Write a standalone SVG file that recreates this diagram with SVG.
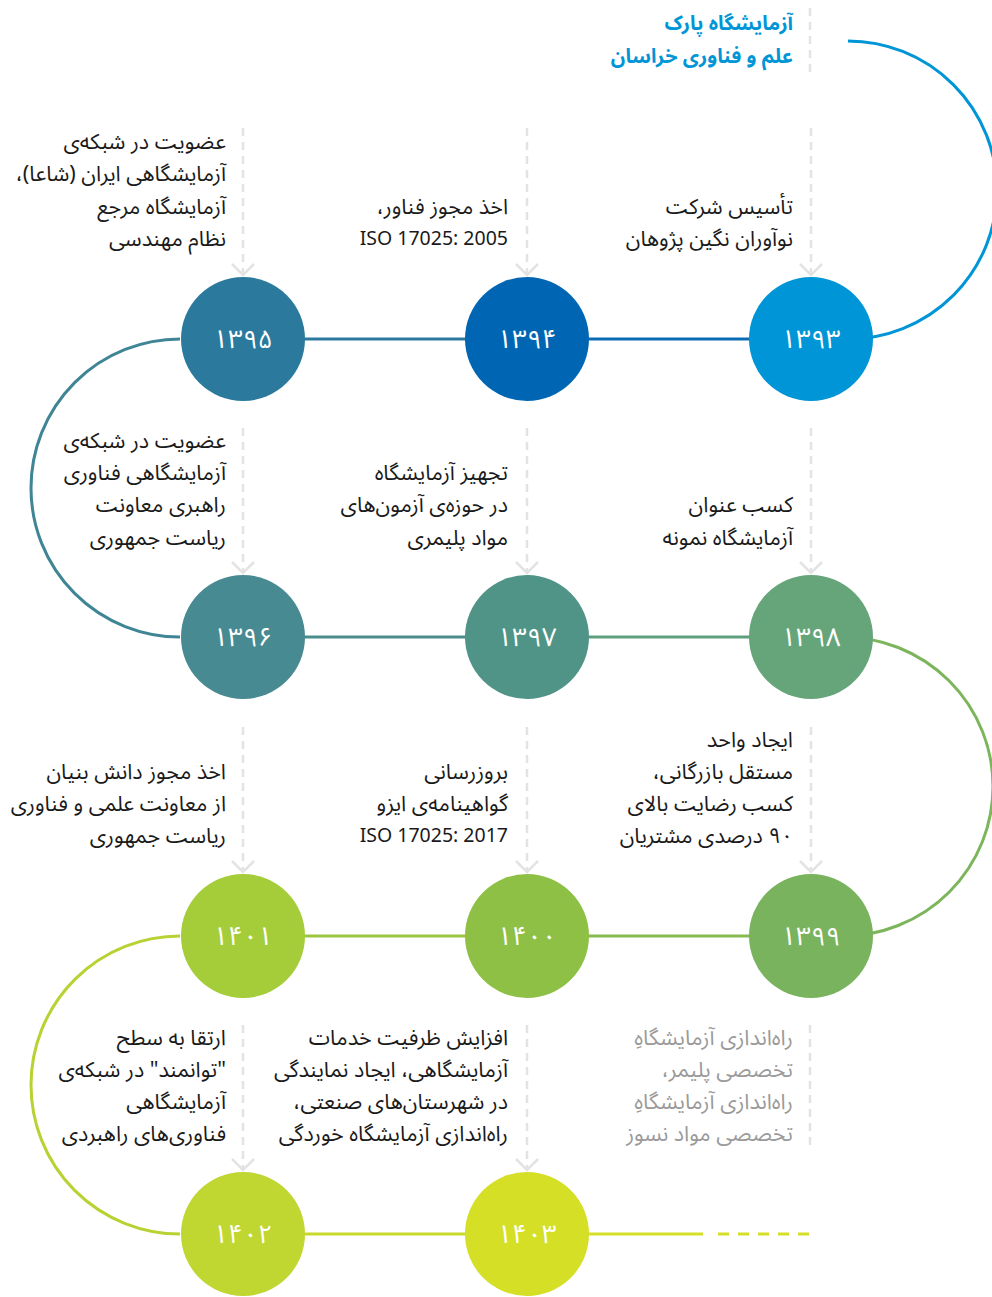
<svg xmlns="http://www.w3.org/2000/svg" width="992" height="1297" viewBox="0 0 992 1297">
<defs>
<style>
.t{font-family:"Noto Sans Arabic","Vazirmatn","DejaVu Sans",sans-serif;font-size:21.5px;fill:#1a1a1a;direction:rtl;text-anchor:start}
.iso{font-family:"Noto Sans","DejaVu Sans",sans-serif;font-size:19.5px;fill:#1a1a1a;text-anchor:end}
.g{fill:#9a9a9a}
.ti{font-family:"Noto Sans Arabic","Vazirmatn","DejaVu Sans",sans-serif;font-size:20px;font-weight:bold;fill:#0095d6;direction:rtl;text-anchor:start}
.n{font-family:"Noto Sans Arabic","Vazirmatn","DejaVu Sans",sans-serif;font-size:26px;fill:#ffffff;text-anchor:middle}
.d{stroke:#e3e3e3;stroke-width:2.5;stroke-dasharray:8 6;fill:none}
.ar{stroke:#e3e3e3;stroke-width:2.5;fill:none}
.c{fill:none;stroke-width:3}
</style>
</defs>
<rect width="992" height="1297" fill="#ffffff"/>

<g id="connectors">
<path class="c" stroke="#0095d6" d="M848 41 A149 149 0 0 1 848 339"/>
<line class="c" stroke="#0a6cb4" x1="527" y1="339" x2="811" y2="339"/>
<line class="c" stroke="#2d7aa0" x1="243" y1="339" x2="527" y2="339"/>
<path class="c" stroke="#3f8595" d="M180 339 A149 149 0 0 0 180 637"/>
<line class="c" stroke="#4a8d8c" x1="243" y1="637" x2="527" y2="637"/>
<line class="c" stroke="#5f9f7e" x1="527" y1="637" x2="811" y2="637"/>
<path class="c" stroke="#7cb55b" d="M843 637 A150 149.5 0 0 1 843 936"/>
<line class="c" stroke="#86bb50" x1="527" y1="936" x2="811" y2="936"/>
<line class="c" stroke="#9bc63f" x1="243" y1="936" x2="527" y2="936"/>
<path class="c" stroke="#b7d232" d="M180 936 A149 149 0 0 0 180 1234"/>
<line class="c" stroke="#c8d92c" x1="243" y1="1234" x2="527" y2="1234"/>
<line class="c" stroke="#d4df26" x1="527" y1="1234" x2="703" y2="1234"/>
<line class="c" stroke="#d4df26" stroke-dasharray="11 9" x1="718" y1="1234" x2="812" y2="1234"/>

<line class="d" x1="810" y1="8" x2="810" y2="72"/>

<line class="d" x1="811" y1="128" x2="811" y2="273"/>
<path class="ar" d="M800 264 L811 275 L822 264"/>
<line class="d" x1="527" y1="128" x2="527" y2="273"/>
<path class="ar" d="M516 264 L527 275 L538 264"/>
<line class="d" x1="243" y1="128" x2="243" y2="273"/>
<path class="ar" d="M232 264 L243 275 L254 264"/>

<line class="d" x1="811" y1="428" x2="811" y2="571"/>
<path class="ar" d="M800 562 L811 573 L822 562"/>
<line class="d" x1="527" y1="428" x2="527" y2="571"/>
<path class="ar" d="M516 562 L527 573 L538 562"/>
<line class="d" x1="243" y1="428" x2="243" y2="571"/>
<path class="ar" d="M232 562 L243 573 L254 562"/>

<line class="d" x1="811" y1="727" x2="811" y2="870"/>
<path class="ar" d="M800 861 L811 872 L822 861"/>
<line class="d" x1="527" y1="727" x2="527" y2="870"/>
<path class="ar" d="M516 861 L527 872 L538 861"/>
<line class="d" x1="243" y1="727" x2="243" y2="870"/>
<path class="ar" d="M232 861 L243 872 L254 861"/>

<line class="d" x1="810" y1="1025" x2="810" y2="1150"/>
<line class="d" x1="527" y1="1025" x2="527" y2="1168"/>
<path class="ar" d="M516 1159 L527 1170 L538 1159"/>
<line class="d" x1="243" y1="1025" x2="243" y2="1168"/>
<path class="ar" d="M232 1159 L243 1170 L254 1159"/>
</g>

<g id="title">
<text class="ti" x="793" y="30">آزمایشگاه پارک</text>
<text class="ti" x="793" y="63">علم و فناوری خراسان</text>
</g>

<g id="n1393">
<circle cx="811" cy="339" r="62" fill="#0095d6"/>
<text class="n" x="811" y="348">۱۳۹۳</text>
<text class="t" x="793" y="214">تأسیس شرکت</text>
<text class="t" x="793" y="246">نوآوران نگین پژوهان</text>
</g>
<g id="n1394">
<circle cx="527" cy="339" r="62" fill="#0066b3"/>
<text class="n" x="527" y="348">۱۳۹۴</text>
<text class="t" x="508" y="214">اخذ مجوز فناور،</text>
<text class="iso" x="508" y="245">ISO 17025: 2005</text>
</g>
<g id="n1395">
<circle cx="243" cy="339" r="62" fill="#2b7a9e"/>
<text class="n" x="243" y="348">۱۳۹۵</text>
<text class="t" x="226" y="149">عضویت در شبکه‌ی</text>
<text class="t" x="226" y="181">آزمایشگاهی ایران (شاعا)،</text>
<text class="t" x="226" y="214">آزمایشگاه مرجع</text>
<text class="t" x="226" y="246">نظام مهندسی</text>
</g>

<g id="n1396">
<circle cx="243" cy="637" r="62" fill="#488a91"/>
<text class="n" x="243" y="646">۱۳۹۶</text>
<text class="t" x="226" y="448">عضویت در شبکه‌ی</text>
<text class="t" x="226" y="480">آزمایشگاهی فناوری</text>
<text class="t" x="226" y="512">راهبری معاونت</text>
<text class="t" x="226" y="545">ریاست جمهوری</text>
</g>
<g id="n1397">
<circle cx="527" cy="637" r="62" fill="#4f9487"/>
<text class="n" x="527" y="646">۱۳۹۷</text>
<text class="t" x="508" y="480">تجهیز آزمایشگاه</text>
<text class="t" x="508" y="512">در حوزه‌ی آزمون‌های</text>
<text class="t" x="508" y="545">مواد پلیمری</text>
</g>
<g id="n1398">
<circle cx="811" cy="637" r="62" fill="#66a57a"/>
<text class="n" x="811" y="646">۱۳۹۸</text>
<text class="t" x="793" y="512">کسب عنوان</text>
<text class="t" x="793" y="545">آزمایشگاه نمونه</text>
</g>

<g id="n1399">
<circle cx="811" cy="936" r="62" fill="#7ab35e"/>
<text class="n" x="811" y="945">۱۳۹۹</text>
<text class="t" x="793" y="747">ایجاد واحد</text>
<text class="t" x="793" y="779">مستقل بازرگانی،</text>
<text class="t" x="793" y="811">کسب رضایت بالای</text>
<text class="t" x="793" y="843">۹۰ درصدی مشتریان</text>
</g>
<g id="n1400">
<circle cx="527" cy="936" r="62" fill="#8ec045"/>
<text class="n" x="527" y="945">۱۴۰۰</text>
<text class="t" x="508" y="779">بروزرسانی</text>
<text class="t" x="508" y="811">گواهینامه‌ی ایزو</text>
<text class="iso" x="508" y="842">ISO 17025: 2017</text>
</g>
<g id="n1401">
<circle cx="243" cy="936" r="62" fill="#a5cd3a"/>
<text class="n" x="243" y="945">۱۴۰۱</text>
<text class="t" x="226" y="779">اخذ مجوز دانش بنیان</text>
<text class="t" x="226" y="811">از معاونت علمی و فناوری</text>
<text class="t" x="226" y="843">ریاست جمهوری</text>
</g>

<g id="n1402">
<circle cx="243" cy="1234" r="62" fill="#c0d631"/>
<text class="n" x="243" y="1243">۱۴۰۲</text>
<text class="t" x="226" y="1045">ارتقا به سطح</text>
<text class="t" x="226" y="1077">"توانمند" در شبکه‌ی</text>
<text class="t" x="226" y="1109">آزمایشگاهی</text>
<text class="t" x="226" y="1141">فناوری‌های راهبردی</text>
</g>
<g id="n1403">
<circle cx="527" cy="1234" r="62" fill="#d4df26"/>
<text class="n" x="527" y="1243">۱۴۰۳</text>
<text class="t" x="508" y="1045">افزایش ظرفیت خدمات</text>
<text class="t" x="508" y="1077">آزمایشگاهی، ایجاد نمایندگی</text>
<text class="t" x="508" y="1109">در شهرستان‌های صنعتی،</text>
<text class="t" x="508" y="1141">راه‌اندازی آزمایشگاه خوردگی</text>
</g>

<g id="future">
<text class="t g" x="793" y="1045">راه‌اندازی آزمایشگاهِ</text>
<text class="t g" x="793" y="1077">تخصصی پلیمر،</text>
<text class="t g" x="793" y="1109">راه‌اندازی آزمایشگاهِ</text>
<text class="t g" x="793" y="1141">تخصصی مواد نسوز</text>
</g>
</svg>
